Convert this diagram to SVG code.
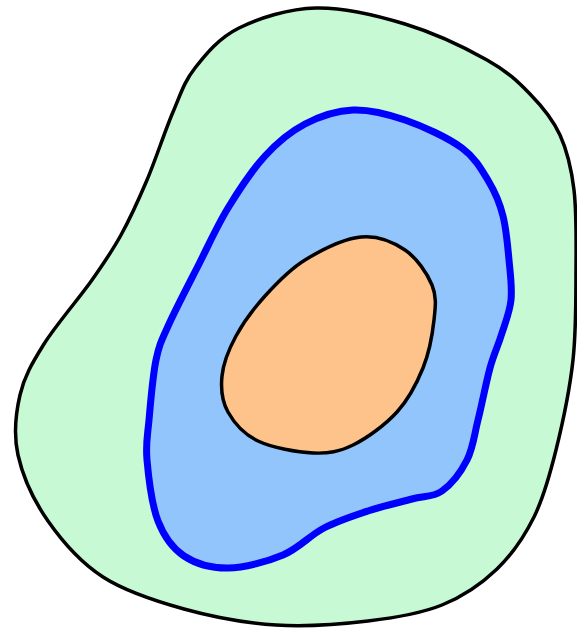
<svg xmlns="http://www.w3.org/2000/svg" width="577" height="628" viewBox="0 0 577 628">
<style>
.outer{fill:#c6f9d4;stroke:#000;stroke-width:3.5;stroke-linejoin:round}
.mid{fill:#93c5fd;stroke:#0000ff;stroke-width:7;stroke-linejoin:round}
.core{fill:#fdc38b;stroke:#000;stroke-width:3.5;stroke-linejoin:round}
</style>
<rect width="577" height="628" fill="#ffffff"/>
<g id="outer">
<path class="outer" d="M316,8 C343.7,7.3 376.5,15.3 405,24 C433.5,32.7 466.2,48.3 487,60 C507.8,71.7 517.8,81.5 530,94 C542.2,106.5 552.7,119 560,135 C567.3,151 571.3,167.5 574,190 C576.7,212.5 576.2,241.7 576,270 C575.8,298.3 576.3,330 573,360 C569.7,390 562.5,423.8 556,450 C549.5,476.2 543.8,497.2 534,517 C524.2,536.8 512.3,554.3 497,569 C481.7,583.7 463.5,596.3 442,605 C420.5,613.7 395.7,617.7 368,621 C340.3,624.3 306.7,627 276,625 C245.3,623 212.8,617 184,609 C155.2,601 125.7,591.7 103,577 C80.3,562.3 62.2,541.3 48,521 C33.8,500.7 22.7,476 18,455 C13.3,434 15.7,413.5 20,395 C24.3,376.5 32,363.2 44,344 C56,324.8 79.2,298.2 92,280 C104.8,261.8 111.8,251.7 121,235 C130.2,218.3 138.3,200.5 147,180 C155.7,159.5 165,130.7 173,112 C181,93.3 184,82 195,68 C206,54 218.8,38 239,28 C259.2,18 288.3,8.7 316,8 Z"/>
</g>
<g id="middle">
<path class="mid" d="M353,110 C369.7,109.3 386.8,113.7 405,120 C423.2,126.3 448,137.7 462,148 C476,158.3 482.2,170.7 489,182 C495.8,193.3 499.7,203 503,216 C506.3,229 507.7,246 509,260 C510.3,274 512.3,287.3 511,300 C509.7,312.7 504.5,324.7 501,336 C497.5,347.3 493.8,354 490,368 C486.2,382 481.8,404.7 478,420 C474.2,435.3 473,448.2 467,460 C461,471.8 451.2,484.5 442,491 C432.8,497.5 424.3,495.7 412,499 C399.7,502.3 382.7,506.2 368,511 C353.3,515.8 338.2,520.7 324,528 C309.8,535.3 299,548.3 283,555 C267,561.7 244.5,567.8 228,568 C211.5,568.2 195.7,563.8 184,556 C172.3,548.2 164.2,537 158,521 C151.8,505 148.5,476.8 147,460 C145.5,443.2 147.5,436.7 149,420 C150.5,403.3 152.7,376 156,360 C159.3,344 161.8,340 169,324 C176.2,308 189.2,283.3 199,264 C208.8,244.7 217,226 228,208 C239,190 252.2,170 265,156 C277.8,142 290.3,131.7 305,124 C319.7,116.3 336.3,110.7 353,110 Z"/>
</g>
<g id="core">
<path class="core" d="M361,237 C377.7,235.3 393.2,242 405,250 C416.8,258 427.2,273.3 432,285 C436.8,296.7 435.5,306.2 434,320 C432.5,333.8 429.2,352.7 423,368 C416.8,383.3 408.7,399.2 397,412 C385.3,424.8 367,438.2 353,445 C339,451.8 328.8,453.7 313,453 C297.2,452.3 272.2,447.8 258,441 C243.8,434.2 234,422.8 228,412 C222,401.2 220.7,388.7 222,376 C223.3,363.3 228.8,349.3 236,336 C243.2,322.7 253.5,308.7 265,296 C276.5,283.3 289,269.8 305,260 C321,250.2 344.3,238.7 361,237 Z"/>
</g>
</svg>
